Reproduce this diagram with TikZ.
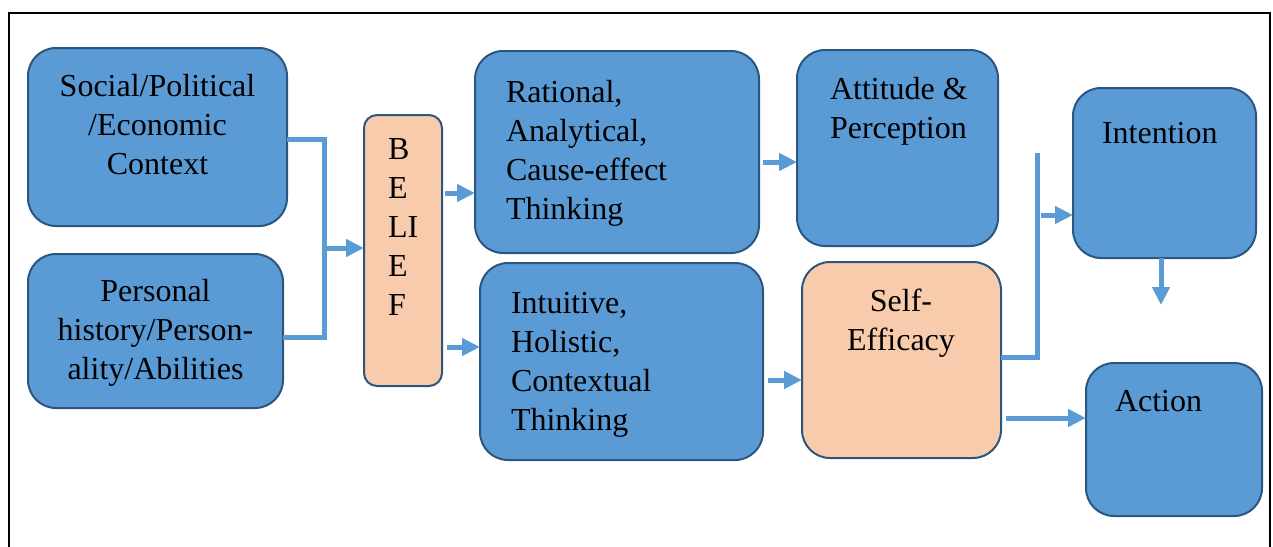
\documentclass[tikz,border=0pt]{standalone}
\usepackage{fontspec}
\setmainfont{Liberation Serif}
\usetikzlibrary{arrows.meta}
\definecolor{boxblue}{RGB}{91,155,213}
\definecolor{boxedge}{RGB}{44,86,130}
\definecolor{peach}{RGB}{248,203,173}
\definecolor{linkblue}{RGB}{91,155,213}
\tikzset{
  box/.style={draw=boxedge, line width=2pt, rounded corners=28pt, inner sep=0pt, outer sep=0pt},
  bluebox/.style={box, fill=boxblue},
  peachbox/.style={box, fill=peach},
  txt/.style={font=\fontsize{32}{39}\selectfont, inner sep=0pt, outer sep=0pt},
  txtL/.style={txt, align=left, anchor=north west},
  txtC/.style={txt, align=center, anchor=north},
  link/.style={draw=linkblue, line width=5pt},
  arrowlink/.style={link, -{Triangle[length=18pt,width=17pt]}},
  outerframe/.style={draw=black, line width=2pt}
}
\begin{document}
\begin{tikzpicture}[x=1pt,y=-1pt]
\useasboundingbox (0,0) rectangle (1273,546);
\draw[outerframe] (9,548) -- (9,13) -- (1270,13) -- (1270,548);

% boxes
\node[bluebox, minimum width=259pt, minimum height=178pt] (social) at (157.5,137) {};
\node[bluebox, minimum width=255pt, minimum height=154pt] (personal) at (155.5,331) {};
\node[peachbox, rounded corners=13pt, minimum width=78pt, minimum height=271pt] (belief) at (403,250.5) {};
\node[bluebox, minimum width=284pt, minimum height=202pt] (rational) at (617,152) {};
\node[bluebox, minimum width=283pt, minimum height=197pt] (intuitive) at (621.5,361.5) {};
\node[bluebox, minimum width=201pt, minimum height=196pt] (attitude) at (897.5,148) {};
\node[peachbox, minimum width=199pt, minimum height=196pt] (self) at (901.5,360) {};
\node[bluebox, minimum width=183pt, minimum height=170pt] (intention) at (1164.5,173) {};
\node[bluebox, minimum width=176pt, minimum height=153pt] (action) at (1174,439.5) {};

% texts
\node[txtC] (socialT) at (157.5,69.2) {\strut Social/Political\\/Economic\\Context};
\node[txtC] (personalT) at (155.5,274.2) {\strut Personal\\history/Person-\\ality/Abilities};
\node[txtL] (beliefT) at (388,132.2) {\strut B\\E\\LI\\E\\F};
\node[txtL] (rationalT) at (506,75.2) {\strut Rational,\\Analytical,\\Cause-effect\\Thinking};
\node[txtL] (intuitiveT) at (511,286.2) {\strut Intuitive,\\Holistic,\\Contextual\\Thinking};
\node[txtL] (attitudeT) at (830,72.2) {\strut Attitude \&\\Perception};
\node[txtC] (selfT) at (901,284.2) {\strut Self-\\Efficacy};
\node[txtL] (intentionT) at (1102,116.2) {\strut Intention};
\node[txtL] (actionT) at (1115,384.2) {\strut Action};

% connectors
\coordinate (bt) at (324,139);
\coordinate (bb) at (324,337);
\coordinate (bm) at (324,248);
\draw[link] (social.east |- bt) -- (bt) -- (bb) -- (personal.east |- bb);
\draw[arrowlink] (bm) -- (belief.west |- bm);

\coordinate (r1) at (445,193);
\draw[arrowlink, shorten <=3pt] (belief.east |- r1) -- (rational.west |- r1);
\coordinate (i1) at (447,347);
\draw[arrowlink, shorten <=5pt] (belief.east |- i1) -- (intuitive.west |- i1);
\coordinate (a1) at (763,162);
\draw[arrowlink, shorten <=4pt] (rational.east |- a1) -- (attitude.west |- a1);
\coordinate (s1) at (768,380);
\draw[arrowlink, shorten <=5pt] (intuitive.east |- s1) -- (self.west |- s1);

\coordinate (st) at (1037,153);
\coordinate (sb) at (1037,357);
\coordinate (sm) at (1037,215);
\draw[link] (self.east |- sb) -- (sb) -- (st);
\draw[arrowlink, shorten <=4pt] (sm) -- (intention.west |- sm);

\coordinate (dn) at (1161,305);
\draw[arrowlink] (intention.south -| dn) -- (dn);

\coordinate (ac) at (1006,418);
\draw[arrowlink, shorten <=5pt] (self.east |- ac) -- (action.west |- ac);
\end{tikzpicture}
\end{document}
